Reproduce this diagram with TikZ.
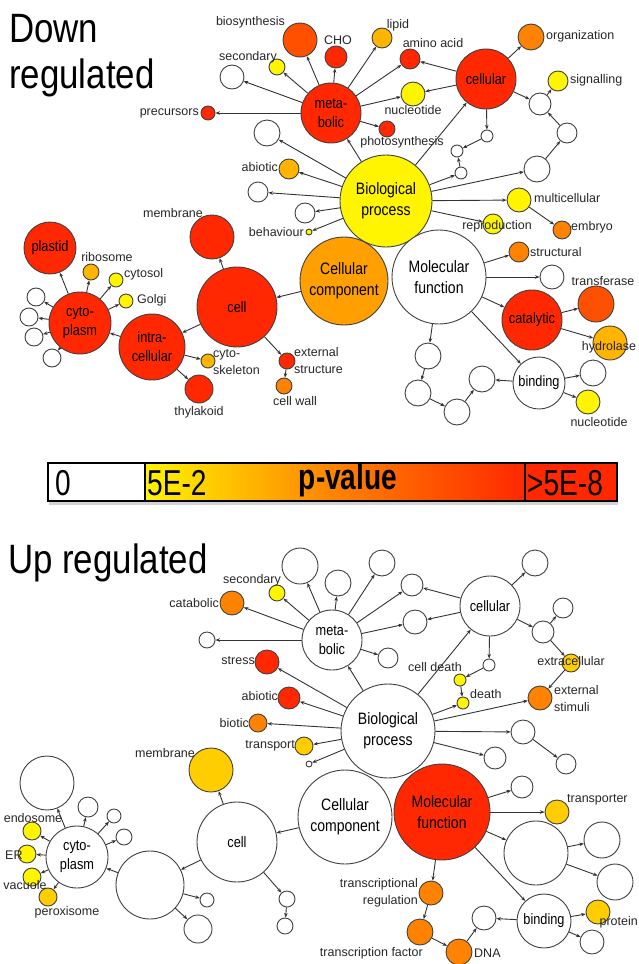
\documentclass[tikz,border=0pt]{standalone}
\usepackage{fontspec}
\setmainfont{Liberation Sans}
\newfontfamily\narrowfont{Liberation Sans}[FakeStretch=0.85]
\newfontfamily\barfont{Liberation Sans}[FakeStretch=0.78]
\usetikzlibrary{arrows.meta,shadows}

\definecolor{pvA}{RGB}{255,245,0}
\definecolor{pvB}{RGB}{255,205,0}
\definecolor{pvC}{RGB}{255,180,0}
\definecolor{pvD}{RGB}{255,130,0}
\definecolor{pvE}{RGB}{255,80,0}
\definecolor{pvF}{RGB}{255,40,0}
\definecolor{pvCC}{RGB}{255,160,0}

\begin{document}
\begin{tikzpicture}[x=1pt,y=-1pt,
    goterm/.style={circle,draw=black!75,line width=0.9pt,inner sep=0pt,minimum size=#1},
    lbl/.style={font=\fontsize{12.5}{17}\selectfont,inner sep=0pt,text=black!85},
    inlbl/.style={font=\narrowfont\fontsize{15}{19}\selectfont,align=center},
    rootlbl/.style={font=\narrowfont\fontsize{16.5}{21}\selectfont,align=center},
    title/.style={font=\narrowfont\fontsize{41}{44}\selectfont,inner sep=0pt,anchor=base west},
    bartxt/.style={font=\barfont\fontsize{36}{36}\selectfont,anchor=west,inner sep=0pt},
    link/.style={every edge/.style={draw=black!80,line width=0.9pt,-{Stealth[length=4.5pt,width=3.5pt]}}}]
\clip (0,0) rectangle (639,964);

% ---------- down regulated ----------
\node[title] (tdown) at (9,42) {Down};
\node[title] (treg) at (9,88) {regulated};

\node[goterm=92pt,fill=pvA,rootlbl] (dbp) at (386,201) {Biological\\process};
\node[goterm=88pt,fill=pvCC,rootlbl] (dcc) at (344,281) {Cellular\\component};
\node[goterm=94pt,fill=white,rootlbl] (dmf) at (439,277) {Molecular\\function};

\node[goterm=60pt,fill=pvF,inlbl] (dmeta) at (331,113) {meta-\\bolic};
\node[goterm=34pt,fill=pvE] (dbio) at (300,40) {};
\node[goterm=16pt,fill=pvA] (dsec) at (277,67) {};
\node[goterm=24pt,fill=white] (dw1) at (232,77) {};
\node[goterm=14pt,fill=pvF] (dpre) at (208,113) {};
\node[goterm=22pt,fill=pvF] (dcho) at (336,57) {};
\node[goterm=20pt,fill=pvC] (dlip) at (382,38) {};
\node[goterm=20pt,fill=pvF] (damino) at (410,59) {};
\node[goterm=24pt,fill=pvA] (dnuc) at (413,94) {};
\node[goterm=16pt,fill=pvF] (dphoto) at (387,129) {};
\node[lbl,anchor=east] (lbio) at (285,22) {biosynthesis};
\node[lbl,anchor=east] (lsec) at (277,57) {secondary};
\node[lbl,anchor=east] (lpre) at (199,113) {precursors};
\node[lbl] (lcho) at (338,40) {CHO};
\node[lbl] (llip) at (398,25) {lipid};
\node[lbl] (lamino) at (433,43) {amino acid};
\node[lbl] (lnuc) at (413,110) {nucleotide};
\node[lbl] (lphoto) at (402,142) {photosynthesis};

\node[goterm=26pt,fill=white] (dw2) at (267,133) {};
\node[goterm=20pt,fill=pvC] (dabio) at (289,169) {};
\node[goterm=20pt,fill=white] (dw3) at (258,192) {};
\node[goterm=20pt,fill=white] (dw4) at (305,213) {};
\node[goterm=6pt,fill=pvA] (dbeh) at (309,232) {};
\node[lbl,anchor=east] (labio) at (278,167) {abiotic};
\node[lbl,anchor=east] (lbeh) at (304,232) {behaviour};

\node[goterm=60pt,fill=pvF,inlbl] (dcellular) at (486,79) {cellular};
\node[goterm=26pt,fill=pvD] (dorg) at (531,37) {};
\node[goterm=20pt,fill=pvA] (dsig) at (558,81) {};
\node[goterm=22pt,fill=white] (dw5) at (540,104) {};
\node[goterm=20pt,fill=white] (dw6) at (567,133) {};
\node[goterm=26pt,fill=white] (dw7) at (537,169) {};
\node[goterm=12pt,fill=white] (dw8) at (487,136) {};
\node[goterm=12pt,fill=white] (dw9) at (457,151) {};
\node[goterm=12pt,fill=white] (dw10) at (461,173) {};
\node[lbl,anchor=west] (lorg) at (546,36) {organization};
\node[lbl,anchor=west] (lsig) at (570,80) {signalling};

\node[goterm=24pt,fill=pvA] (dmulti) at (519,200) {};
\node[goterm=18pt,fill=pvD] (demb) at (562,230) {};
\node[goterm=20pt,fill=pvA] (drep) at (493,224) {};
\node[lbl,anchor=west] (lmulti) at (534,198) {multicellular};
\node[lbl,anchor=west] (lemb) at (571,227) {embryo};
\node[lbl] (lrep) at (497,226) {reproduction};

\node[goterm=20pt,fill=pvD] (dstruct) at (519,252) {};
\node[goterm=24pt,fill=white] (dw11) at (552,277) {};
\node[goterm=60pt,fill=pvF,inlbl] (dcat) at (532,320) {catalytic};
\node[goterm=36pt,fill=pvE] (dtrans) at (596,304) {};
\node[goterm=34pt,fill=pvC] (dhyd) at (610,343) {};
\node[goterm=52pt,fill=white,inlbl] (dbind) at (539,383) {binding};
\node[goterm=26pt,fill=white] (dw12) at (593,373) {};
\node[goterm=24pt,fill=pvA] (dnuc2) at (588,402) {};
\node[goterm=26pt,fill=white] (dw13) at (482,379) {};
\node[goterm=26pt,fill=white] (dw14) at (457,412) {};
\node[goterm=26pt,fill=white] (dw15) at (418,393) {};
\node[goterm=26pt,fill=white] (dw16) at (428,356) {};
\node[lbl,anchor=west] (lstruct) at (530,252) {structural};
\node[lbl] (ltrans) at (603,281) {transferase};
\node[lbl] (lhyd) at (609,347) {hydrolase};
\node[lbl] (lnuc2) at (599,422) {nucleotide};

\node[goterm=80pt,fill=pvF,inlbl] (dcell) at (237,307) {cell};
\node[goterm=44pt,fill=pvF] (dmem) at (212,237) {};
\node[goterm=66pt,fill=pvF,inlbl] (dintra) at (152,347) {intra-\\cellular};
\node[goterm=62pt,fill=pvF,inlbl] (dcyto) at (80,323) {cyto-\\plasm};
\node[goterm=52pt,fill=pvF,inlbl] (dplas) at (50,248) {plastid};
\node[goterm=16pt,fill=pvC] (drib) at (91,272) {};
\node[goterm=14pt,fill=pvA] (dcytosol) at (116,280) {};
\node[goterm=14pt,fill=pvA] (dgolgi) at (126,301) {};
\node[goterm=18pt,fill=white] (dw17) at (36,297) {};
\node[goterm=18pt,fill=white] (dw18) at (29,317) {};
\node[goterm=18pt,fill=white] (dw19) at (34,337) {};
\node[goterm=18pt,fill=white] (dw20) at (52,358) {};
\node[goterm=14pt,fill=pvC] (dskel) at (208,361) {};
\node[goterm=28pt,fill=pvF] (dthyl) at (199,389) {};
\node[goterm=16pt,fill=pvF] (dext) at (287,361) {};
\node[goterm=16pt,fill=pvD] (dwall) at (284,386) {};
\node[lbl] (lmem) at (173,213) {membrane};
\node[lbl] (lrib) at (107,257) {ribosome};
\node[lbl,anchor=west] (lcytosol) at (124,274) {cytosol};
\node[lbl,anchor=west] (lgolgi) at (137,300) {Golgi};
\node[lbl,anchor=west,align=left] (lskel) at (213,362) {cyto-\\skeleton};
\node[lbl] (lthyl) at (199,412) {thylakoid};
\node[lbl,anchor=west,align=left] (lext) at (294,361) {external\\structure};
\node[lbl] (lwall) at (295,401) {cell wall};

\path[link] (dmeta) edge (dbio) edge (dsec) edge (dw1) edge (dpre) edge (dcho)
    edge (dlip) edge (damino) edge (dnuc) edge (dphoto);
\path[link] (dcellular) edge (damino) edge (dnuc) edge (dorg) edge (dw5) edge (dw8);
\path[link] (dw5) edge (dsig) (dw6) edge (dw5) (dw7) edge (dw6);
\path[link] (dw8) edge (dw9) (dw10) edge (dw9);
\path[link] (dbp) edge (dmeta) edge (dcellular) edge (dw2) edge (dabio) edge (dw3)
    edge (dw4) edge (dbeh) edge (dw7) edge (dw10) edge (dmulti) edge (drep);
\path[link] (dmulti) edge (demb);
\path[link] (dmf) edge (dstruct) edge (dw11) edge (dcat) edge (dbind) edge (dw16);
\path[link] (dcat) edge (dtrans) edge (dhyd);
\path[link] (dbind) edge (dw12) edge (dnuc2) edge (dw13);
\path[link] (dw16) edge (dw15) (dw15) edge (dw14) (dw14) edge (dw13);
\path[link] (dcc) edge (dcell);
\path[link] (dcell) edge (dmem) edge (dintra) edge (dext);
\path[link] (dext) edge (dwall);
\path[link] (dintra) edge (dcyto) edge (dskel) edge (dthyl);
\path[link] (dcyto) edge (dplas) edge (drib) edge (dcytosol) edge (dgolgi)
    edge (dw17) edge (dw18) edge (dw19) edge (dw20);

% ---------- p-value bar ----------
\fill[white,drop shadow={shadow xshift=1pt,shadow yshift=-4pt,opacity=0.35}] (48,463) rectangle (617,501);
\shade[left color=pvA,right color=pvF,middle color=pvD] (145,463) rectangle (525,501);
\fill[pvF] (525,463) rectangle (617,501);
\draw[line width=1.2pt] (48,463) rectangle (617,501) (145,463) -- (145,501) (525,463) -- (525,501);
\node[bartxt] (bzero) at (55,483) {0};
\node[bartxt] (blow) at (147,483) {5E-2};
\node[bartxt,font=\barfont\bfseries\fontsize{36}{36}\selectfont,anchor=center] (bname) at (348,480) {p-value};
\node[bartxt] (bhigh) at (527,483) {>5E-8};

% ---------- up regulated ----------
\node[title] (tup) at (8,573) {Up regulated};

\node[goterm=94pt,fill=white,rootlbl] (ubp) at (388,731) {Biological\\process};
\node[goterm=94pt,fill=white,rootlbl] (ucc) at (345,817) {Cellular\\component};
\node[goterm=96pt,fill=pvF,rootlbl] (umf) at (442,812) {Molecular\\function};

\node[goterm=60pt,fill=white,inlbl] (umeta) at (332,640) {meta-\\bolic};
\node[goterm=36pt,fill=white] (uw1) at (300,566) {};
\node[goterm=26pt,fill=white] (uw2) at (338,583) {};
\node[goterm=26pt,fill=white] (uw3) at (382,563) {};
\node[goterm=22pt,fill=white] (uw4) at (412,585) {};
\node[goterm=24pt,fill=white] (uw5) at (415,622) {};
\node[goterm=20pt,fill=white] (uw6) at (388,658) {};
\node[goterm=16pt,fill=pvA] (usec) at (277,593) {};
\node[goterm=24pt,fill=pvD] (ucat) at (232,603) {};
\node[goterm=16pt,fill=white] (uw7) at (207,640) {};
\node[lbl] (lusec) at (252,580) {secondary};
\node[lbl,anchor=east] (lucat) at (219,603) {catabolic};

\node[goterm=24pt,fill=pvF] (ustress) at (267,662) {};
\node[goterm=22pt,fill=pvF] (uabio) at (289,698) {};
\node[goterm=18pt,fill=pvD] (ubiot) at (258,723) {};
\node[goterm=18pt,fill=pvB] (utransp) at (304,746) {};
\node[goterm=6pt,fill=white] (uw8) at (309,764) {};
\node[lbl,anchor=east] (lustress) at (255,661) {stress};
\node[lbl,anchor=east] (luabio) at (278,696) {abiotic};
\node[lbl,anchor=east] (lubiot) at (249,723) {biotic};
\node[lbl,anchor=east] (lutransp) at (295,746) {transport};

\node[goterm=60pt,fill=white,inlbl] (ucellular) at (490,606) {cellular};
\node[goterm=26pt,fill=white] (uw14) at (535,563) {};
\node[goterm=22pt,fill=white] (uw12) at (543,632) {};
\node[goterm=20pt,fill=white] (uw13) at (563,608) {};
\node[goterm=18pt,fill=pvB] (uextra) at (571,663) {};
\node[goterm=24pt,fill=pvD] (uext) at (540,698) {};
\node[goterm=12pt,fill=white] (uw15) at (489,665) {};
\node[goterm=12pt,fill=pvA] (ucd) at (460,680) {};
\node[goterm=12pt,fill=pvA] (udeath) at (463,703) {};
\node[goterm=24pt,fill=white] (uw9) at (523,732) {};
\node[goterm=20pt,fill=white] (uw10) at (566,764) {};
\node[goterm=22pt,fill=white] (uw11) at (495,758) {};
\node[lbl] (luextra) at (571,661) {extracellular};
\node[lbl,anchor=west,align=left] (luext) at (554,699) {external\\stimuli};
\node[lbl] (lucd) at (435,667) {cell death};
\node[lbl,anchor=west] (ludeath) at (470,694) {death};

\node[goterm=80pt,fill=white,inlbl] (ucell) at (237,842) {cell};
\node[goterm=44pt,fill=pvB] (umem) at (211,770) {};
\node[goterm=68pt,fill=white] (uw16) at (150,885) {};
\node[goterm=62pt,fill=white,inlbl] (ucyto) at (77,857) {cyto-\\plasm};
\node[goterm=54pt,fill=white] (uw17) at (47,783) {};
\node[goterm=20pt,fill=white] (uw18) at (88,807) {};
\node[goterm=14pt,fill=white] (uw19) at (114,816) {};
\node[goterm=16pt,fill=white] (uw20) at (124,837) {};
\node[goterm=18pt,fill=pvA] (uendo) at (32,831) {};
\node[goterm=18pt,fill=pvA] (uer) at (27,854) {};
\node[goterm=18pt,fill=pvA] (uvac) at (32,877) {};
\node[goterm=18pt,fill=pvB] (uper) at (48,897) {};
\node[goterm=14pt,fill=white] (uw21) at (207,900) {};
\node[goterm=28pt,fill=white] (uw22) at (198,929) {};
\node[goterm=16pt,fill=white] (uw23) at (287,899) {};
\node[goterm=16pt,fill=white] (uw24) at (285,926) {};
\node[lbl] (lumem) at (165,753) {membrane};
\node[lbl] (luendo) at (33,818) {endosome};
\node[lbl,anchor=west] (luer) at (5,855) {ER};
\node[lbl] (luvac) at (25,885) {vacuole};
\node[lbl] (luper) at (67,912) {peroxisome};

\node[goterm=22pt,fill=white] (uw25) at (522,787) {};
\node[goterm=24pt,fill=pvB] (utransptr) at (557,812) {};
\node[goterm=64pt,fill=white] (uw26) at (536,853) {};
\node[goterm=36pt,fill=white] (uw27) at (602,840) {};
\node[goterm=36pt,fill=white] (uw28) at (615,882) {};
\node[goterm=54pt,fill=white,inlbl] (ubind) at (544,921) {binding};
\node[goterm=24pt,fill=pvB] (uprot) at (598,912) {};
\node[goterm=24pt,fill=white] (uw29) at (592,942) {};
\node[goterm=24pt,fill=white] (uw30) at (484,918) {};
\node[goterm=24pt,fill=pvD] (utreg) at (431,893) {};
\node[goterm=26pt,fill=pvD] (utf) at (420,932) {};
\node[goterm=26pt,fill=pvD] (udna) at (459,952) {};
\node[lbl,anchor=west] (lutransptr) at (567,800) {transporter};
\node[lbl,anchor=east] (luprot) at (638,922) {protein};
\node[lbl,anchor=east,align=right] (lutreg) at (418,893) {transcriptional\\regulation};
\node[lbl,anchor=east] (lutf) at (423,953) {transcription factor};
\node[lbl,anchor=west] (ludna) at (474,953) {DNA};

\path[link] (umeta) edge (uw1) edge (uw2) edge (uw3) edge (uw4) edge (uw5) edge (uw6)
    edge (usec) edge (ucat) edge (uw7);
\path[link] (ucellular) edge (uw4) edge (uw5) edge (uw14) edge (uw12) edge (uw15);
\path[link] (uw12) edge (uw13) edge (uextra) (uextra) edge (uext);
\path[link] (uw15) edge (ucd) (ucd) edge (udeath);
\path[link] (ubp) edge (umeta) edge (ucellular) edge (ustress) edge (uabio) edge (ubiot)
    edge (utransp) edge (uw8) edge (udeath) edge (uext) edge (uw9) edge (uw11);
\path[link] (uw9) edge (uw10);
\path[link] (ucc) edge (ucell);
\path[link] (ucell) edge (umem) edge (uw16) edge (uw23);
\path[link] (uw23) edge (uw24);
\path[link] (uw16) edge (ucyto) edge (uw21) edge (uw22);
\path[link] (ucyto) edge (uw17) edge (uw18) edge (uw19) edge (uw20)
    edge (uendo) edge (uer) edge (uvac) edge (uper);
\path[link] (umf) edge (uw25) edge (utransptr) edge (uw26) edge (ubind) edge (utreg);
\path[link] (uw26) edge (uw27) edge (uw28);
\path[link] (ubind) edge (uprot) edge (uw29) edge (uw30);
\path[link] (utreg) edge (utf) (utf) edge (udna) (udna) edge (uw30);
\end{tikzpicture}
\end{document}
